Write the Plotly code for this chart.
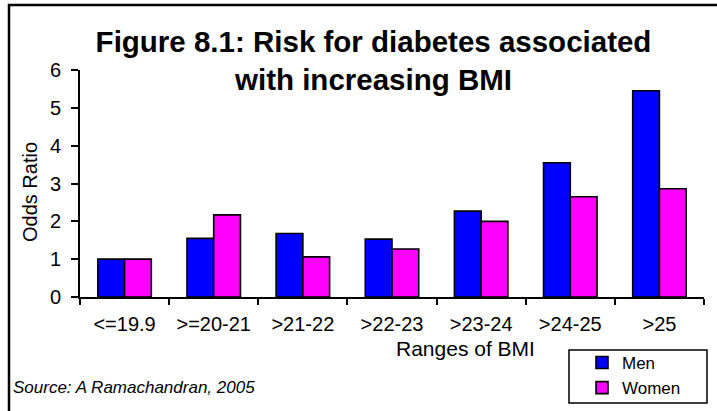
import plotly.graph_objects as go

categories = ["<=19.9", ">=20-21", ">21-22", ">22-23", ">23-24", ">24-25", ">25"]
men = [1.0, 1.55, 1.68, 1.53, 2.27, 3.55, 5.45]
women = [1.0, 2.17, 1.06, 1.27, 2.0, 2.65, 2.86]
y_ticks = [0, 1, 2, 3, 4, 5, 6]

W, H = 717, 411
L, R, T, B = 80, 13, 70, 114
pw, ph = W - L - R, H - T - B

def px_x(x):
    return (x - L) / pw

def px_y(y):
    return (H - B - y) / ph

FONT = "Arial, 'Liberation Sans', sans-serif"

fig = go.Figure()
fig.add_trace(go.Bar(name="Men", x=categories, y=men,
                     marker=dict(color="#0000FF", line=dict(color="black", width=1.6))))
fig.add_trace(go.Bar(name="Women", x=categories, y=women,
                     marker=dict(color="#FF00FF", line=dict(color="black", width=1.6))))

fig.update_layout(
    width=W, height=H,
    margin=dict(l=L, r=R, t=T, b=B, autoexpand=False),
    paper_bgcolor="white", plot_bgcolor="white",
    barmode="group", bargap=0.4, bargroupgap=0,
    font=dict(family=FONT, size=20, color="black"),
    title=dict(text="<b>Figure 8.1: Risk for diabetes associated<br>with increasing BMI</b>",
               x=373.5 / W, xanchor="center", y=1 - 52 / H, yanchor="middle",
               font=dict(family=FONT, size=29.5, color="black")),
    showlegend=True,
    legend=dict(x=px_x(582), y=px_y(345), xanchor="left", yanchor="top",
                bgcolor="rgba(0,0,0,0)", borderwidth=0,
                font=dict(family=FONT, size=17, color="black"),
                tracegroupgap=0),
    xaxis=dict(type="category", showgrid=False, showline=True, linecolor="black", linewidth=2,
               ticks="outside", tickson="boundaries", ticklen=6, tickwidth=1.5, tickcolor="black",
               tickfont=dict(family=FONT, size=20), ticklabelstandoff=8, automargin=False),
    yaxis=dict(range=[0, 6], tickvals=y_ticks, showgrid=False, zeroline=False, showline=True,
               linecolor="black", linewidth=2, ticks="outside", ticklen=7, tickwidth=1.5,
               tickcolor="black", tickfont=dict(family=FONT, size=20), ticklabelstandoff=6,
               automargin=False),
    shapes=[
        dict(type="rect", xref="paper", yref="paper",
             x0=px_x(9), x1=px_x(740), y0=px_y(5), y1=px_y(440),
             line=dict(color="black", width=2.5), fillcolor="rgba(0,0,0,0)", layer="below"),
        dict(type="rect", xref="paper", yref="paper",
             x0=px_x(569), x1=px_x(707), y0=px_y(350), y1=px_y(403),
             line=dict(color="black", width=1.5), fillcolor="rgba(0,0,0,0)"),
    ],
    annotations=[
        dict(text="Odds Ratio", textangle=-90, xref="paper", yref="paper",
             x=px_x(30), y=px_y(192), xanchor="center", yanchor="middle", showarrow=False,
             font=dict(family=FONT, size=20)),
        dict(text="Ranges of BMI", xref="paper", yref="paper",
             x=px_x(465), y=px_y(348), xanchor="center", yanchor="middle", showarrow=False,
             font=dict(family=FONT, size=21)),
        dict(text="<i>Source: A Ramachandran, 2005</i>", xref="paper", yref="paper",
             x=px_x(11), y=px_y(387), xanchor="left", yanchor="middle", showarrow=False,
             font=dict(family=FONT, size=17)),
    ],
)

fig.write_html("out.html")
